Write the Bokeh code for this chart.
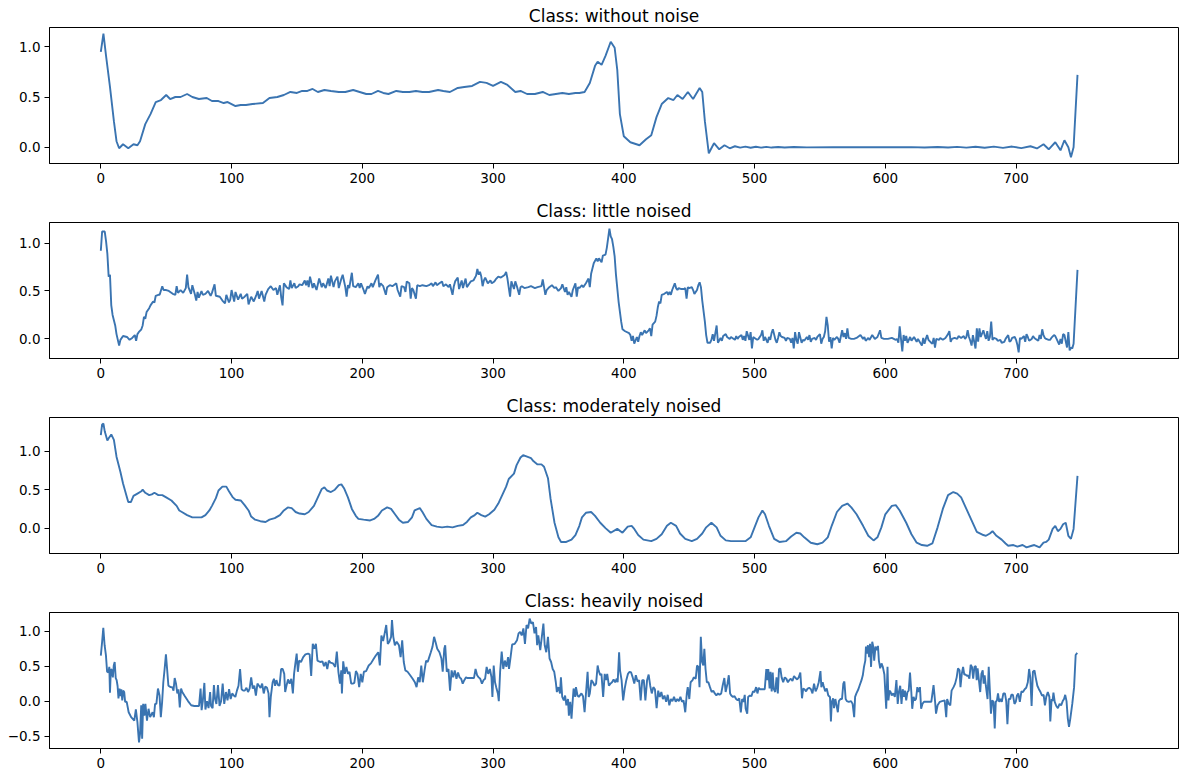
from bokeh.plotting import figure
from bokeh.layouts import column
from bokeh.models import Range1d, FixedTicker
from bokeh.embed import file_html
from bokeh.resources import INLINE

# Signal samples (index, amplitude) for each class
titles = ["Class: without noise", "Class: little noised",
          "Class: moderately noised", "Class: heavily noised"]
x_ticks = [0, 100, 200, 300, 400, 500, 600, 700]
y_ticks_upper = [0.0, 0.5, 1.0]
y_ticks_lower = [-0.5, 0.0, 0.5, 1.0]
# full sample axis extent (the recorded signal stops a bit before its end)
axis_length = 785

clean_pts = [
    (0, 0.95), (2, 1.13), (4, 0.91), (7, 0.6), (10, 0.26), (12, 0.06), (14, -0.01), (17, 0.03), (21, -0.01), (25, 0.03),
    (28, 0.02), (30, 0.06), (34, 0.23), (38, 0.33), (42, 0.45), (46, 0.47), (50, 0.52), (53, 0.48), (57, 0.5), (61, 0.5),
    (66, 0.53), (70, 0.5), (75, 0.48), (81, 0.49), (85, 0.46), (90, 0.46), (94, 0.44), (97, 0.45), (103, 0.41), (107, 0.42),
    (111, 0.42), (116, 0.43), (124, 0.44), (129, 0.49), (135, 0.5), (140, 0.52), (145, 0.55), (150, 0.54), (154, 0.56), (158, 0.56),
    (162, 0.58), (166, 0.55), (171, 0.57), (176, 0.56), (182, 0.55), (187, 0.55), (193, 0.57), (198, 0.55), (203, 0.53), (207, 0.53),
    (212, 0.56), (216, 0.54), (220, 0.53), (226, 0.56), (231, 0.55), (236, 0.55), (241, 0.56), (246, 0.55), (251, 0.55), (258, 0.57),
    (262, 0.56), (267, 0.55), (273, 0.59), (278, 0.6), (284, 0.61), (290, 0.65), (295, 0.64), (300, 0.61), (306, 0.65), (311, 0.62),
    (317, 0.55), (321, 0.56), (326, 0.53), (332, 0.53), (338, 0.55), (343, 0.52), (348, 0.53), (353, 0.54), (358, 0.53), (363, 0.54),
    (366, 0.54), (370, 0.55), (374, 0.64), (378, 0.81), (380, 0.85), (383, 0.82), (386, 0.91), (390, 1.05), (393, 0.99), (395, 0.77),
    (397, 0.33), (400, 0.11), (405, 0.05), (412, 0.02), (417, 0.08), (421, 0.12), (425, 0.3), (429, 0.43), (434, 0.49), (438, 0.47),
    (441, 0.52), (445, 0.48), (449, 0.55), (453, 0.48), (458, 0.59), (460, 0.55), (462, 0.26), (465, -0.06), (469, 0.04), (473, -0.02),
    (477, 0.02), (481, -0.01), (485, 0.01), (489, -0.003), (493, 0.006), (497, -0.005), (501, 0.005), (505, -0.004), (509, 0.004), (513, -0.003),
    (518, 0.003), (523, -0.002), (530, 0.002), (540, -0.001), (560, 0.001), (580, 0.0), (600, 0.0), (620, 0.001), (630, -0.002), (640, 0.003),
    (648, -0.003), (655, 0.004), (662, -0.004), (669, 0.005), (676, -0.005), (683, 0.006), (690, -0.006), (697, 0.007), (704, -0.008), (711, 0.01),
    (716, -0.012), (721, 0.03), (725, -0.02), (730, 0.05), (734, -0.03), (737, 0.07), (740, 0.0), (742, -0.1), (744, 0.0), (747, 0.72),
]

little_pts = [
    (0, 0.92), (1, 1.12), (3, 1.12), (4, 1.02), (5, 0.89), (6, 0.65), (7, 0.67), (8, 0.35), (9, 0.25), (11, 0.14),
    (12, 0.05), (14, -0.07), (15, -0.01), (17, 0.03), (20, 0.02), (22, -0.01), (24, 0.01), (26, 0.04), (27, -0.02), (28, 0.05),
    (29, 0.07), (31, 0.1), (32, 0.14), (33, 0.23), (34, 0.21), (35, 0.28), (37, 0.32), (38, 0.35), (40, 0.39), (41, 0.38),
    (42, 0.45), (44, 0.46), (45, 0.46), (47, 0.55), (48, 0.51), (50, 0.51), (52, 0.5), (55, 0.47), (57, 0.46), (58, 0.55),
    (59, 0.48), (61, 0.51), (63, 0.48), (65, 0.53), (66, 0.67), (67, 0.54), (69, 0.47), (70, 0.56), (72, 0.46), (73, 0.4),
    (74, 0.49), (75, 0.43), (77, 0.5), (78, 0.46), (80, 0.47), (82, 0.5), (84, 0.45), (85, 0.48), (87, 0.57), (88, 0.45),
    (91, 0.44), (93, 0.4), (95, 0.37), (96, 0.46), (98, 0.38), (99, 0.41), (100, 0.51), (102, 0.39), (103, 0.49), (105, 0.41),
    (107, 0.47), (108, 0.42), (110, 0.44), (112, 0.47), (113, 0.36), (115, 0.44), (117, 0.39), (119, 0.46), (120, 0.5), (121, 0.42),
    (123, 0.5), (125, 0.39), (126, 0.46), (128, 0.52), (130, 0.55), (132, 0.51), (134, 0.53), (135, 0.46), (137, 0.56), (138, 0.43),
    (139, 0.35), (140, 0.58), (142, 0.54), (144, 0.52), (145, 0.61), (146, 0.53), (148, 0.58), (149, 0.53), (151, 0.55), (152, 0.57),
    (154, 0.56), (156, 0.61), (157, 0.56), (158, 0.61), (159, 0.54), (160, 0.65), (162, 0.53), (163, 0.58), (165, 0.51), (167, 0.63),
    (169, 0.54), (170, 0.58), (172, 0.53), (174, 0.63), (175, 0.55), (176, 0.66), (178, 0.54), (179, 0.6), (181, 0.65), (182, 0.53),
    (184, 0.63), (185, 0.67), (187, 0.54), (188, 0.44), (189, 0.56), (190, 0.53), (192, 0.69), (193, 0.55), (195, 0.54), (197, 0.58),
    (198, 0.53), (199, 0.58), (201, 0.51), (202, 0.47), (204, 0.55), (205, 0.53), (207, 0.58), (208, 0.54), (210, 0.61), (212, 0.67),
    (213, 0.54), (214, 0.58), (216, 0.55), (218, 0.46), (219, 0.54), (221, 0.56), (223, 0.55), (226, 0.58), (227, 0.51), (229, 0.44),
    (230, 0.55), (232, 0.54), (233, 0.49), (234, 0.6), (236, 0.58), (237, 0.42), (238, 0.53), (239, 0.51), (241, 0.42), (242, 0.56),
    (244, 0.55), (246, 0.56), (249, 0.55), (251, 0.56), (253, 0.58), (254, 0.55), (256, 0.59), (257, 0.56), (259, 0.58), (261, 0.6),
    (262, 0.55), (264, 0.57), (266, 0.54), (267, 0.57), (269, 0.46), (270, 0.55), (271, 0.6), (273, 0.64), (274, 0.52), (276, 0.61),
    (277, 0.53), (279, 0.63), (280, 0.54), (282, 0.58), (283, 0.6), (285, 0.61), (287, 0.66), (288, 0.73), (289, 0.67), (290, 0.7),
    (291, 0.65), (292, 0.55), (293, 0.61), (294, 0.64), (296, 0.58), (298, 0.61), (299, 0.58), (301, 0.6), (302, 0.62), (304, 0.65),
    (306, 0.64), (308, 0.66), (309, 0.67), (310, 0.7), (311, 0.63), (313, 0.44), (314, 0.6), (316, 0.52), (317, 0.6), (318, 0.56),
    (320, 0.46), (321, 0.54), (322, 0.55), (324, 0.53), (327, 0.54), (329, 0.55), (332, 0.53), (334, 0.54), (337, 0.55), (338, 0.62),
    (339, 0.54), (340, 0.46), (341, 0.51), (343, 0.54), (345, 0.56), (347, 0.53), (348, 0.54), (350, 0.5), (352, 0.53), (353, 0.57),
    (355, 0.49), (356, 0.54), (357, 0.46), (358, 0.49), (360, 0.44), (361, 0.51), (363, 0.58), (364, 0.44), (365, 0.54), (366, 0.53),
    (368, 0.56), (369, 0.54), (371, 0.58), (373, 0.63), (374, 0.54), (375, 0.68), (377, 0.79), (379, 0.84), (380, 0.81), (381, 0.84),
    (383, 0.8), (384, 0.87), (386, 0.88), (387, 0.95), (388, 1.05), (389, 1.15), (390, 1.07), (391, 1.04), (392, 0.96), (393, 0.86),
    (394, 0.67), (396, 0.39), (398, 0.18), (399, 0.1), (401, 0.08), (404, 0.06), (405, 0.04), (406, -0.02), (407, 0.03), (408, -0.05),
    (410, 0.02), (411, -0.03), (412, 0.03), (413, 0.07), (414, 0.04), (416, 0.09), (417, 0.06), (419, 0.09), (420, 0.11), (421, 0.03),
    (422, 0.15), (424, 0.18), (425, 0.24), (426, 0.33), (427, 0.39), (428, 0.37), (429, 0.46), (431, 0.47), (433, 0.49), (434, 0.46),
    (435, 0.49), (436, 0.46), (437, 0.51), (439, 0.58), (440, 0.53), (441, 0.51), (442, 0.53), (444, 0.52), (446, 0.52), (447, 0.53),
    (448, 0.42), (449, 0.54), (450, 0.53), (452, 0.54), (453, 0.51), (454, 0.47), (456, 0.51), (457, 0.56), (458, 0.59), (459, 0.54),
    (460, 0.4), (462, 0.18), (463, 0.04), (464, -0.04), (466, -0.04), (467, -0.01), (468, 0.05), (469, -0.02), (471, 0.14), (472, -0.04),
    (474, 0.01), (475, -0.02), (476, 0.03), (478, 0.05), (479, 0.02), (481, 0.0), (482, 0.02), (483, 0.01), (485, -0.01), (486, 0.03),
    (487, 0.0), (488, 0.02), (490, 0.04), (491, -0.01), (492, 0.03), (493, -0.02), (494, 0.08), (496, -0.01), (497, 0.07), (498, -0.1),
    (499, 0.02), (500, 0.01), (502, -0.01), (503, 0.0), (505, 0.04), (506, 0.09), (507, -0.02), (508, 0.02), (510, -0.04), (511, 0.02),
    (512, -0.01), (513, 0.06), (514, 0.1), (516, -0.01), (517, -0.04), (518, 0.01), (519, 0.07), (520, 0.03), (521, 0.02), (523, 0.01),
    (524, -0.02), (525, 0.01), (527, 0.0), (528, -0.04), (529, 0.01), (530, -0.1), (531, 0.07), (532, -0.01), (533, -0.05), (534, 0.07),
    (536, -0.04), (537, -0.01), (538, -0.02), (540, 0.02), (541, -0.01), (542, 0.04), (543, -0.03), (544, 0.0), (546, 0.01), (547, -0.01),
    (548, 0.02), (550, 0.05), (551, -0.05), (552, 0.0), (553, 0.02), (554, 0.08), (555, 0.23), (556, 0.14), (557, -0.03), (558, 0.02),
    (559, -0.1), (560, 0.01), (561, -0.01), (563, 0.02), (564, 0.0), (565, -0.04), (567, 0.09), (568, 0.02), (569, 0.06), (570, 0.0),
    (571, 0.11), (572, 0.01), (574, 0.0), (576, 0.0), (578, 0.01), (581, 0.04), (583, 0.0), (584, 0.02), (585, -0.02), (587, 0.01),
    (588, -0.01), (590, 0.04), (592, 0.0), (594, 0.02), (596, 0.09), (597, 0.01), (599, 0.0), (602, 0.0), (605, 0.01), (608, -0.01),
    (609, 0.0), (610, -0.04), (611, 0.13), (613, -0.13), (614, 0.04), (615, -0.02), (616, 0.03), (617, -0.04), (619, 0.02), (620, -0.02),
    (621, 0.0), (622, 0.02), (624, -0.03), (625, 0.0), (628, -0.07), (629, 0.01), (630, -0.05), (631, 0.0), (632, 0.04), (633, -0.01),
    (635, -0.04), (636, -0.05), (637, 0.01), (638, -0.09), (639, 0.0), (641, -0.01), (642, 0.01), (644, -0.01), (646, 0.01), (648, 0.05),
    (649, 0.08), (650, -0.03), (651, 0.0), (653, 0.01), (655, 0.0), (656, 0.03), (658, 0.01), (660, 0.03), (661, 0.0), (662, 0.02),
    (663, 0.09), (664, 0.02), (665, -0.02), (666, -0.07), (667, 0.04), (668, -0.03), (669, -0.1), (670, 0.11), (671, -0.03), (672, 0.11),
    (673, 0.02), (675, 0.09), (676, 0.04), (677, 0.0), (678, 0.08), (679, -0.02), (680, 0.02), (681, 0.18), (682, -0.01), (683, 0.01),
    (685, 0.0), (686, -0.02), (688, -0.01), (689, -0.04), (691, -0.03), (692, 0.0), (694, 0.04), (695, -0.03), (696, -0.02), (697, 0.01),
    (699, 0.02), (700, -0.01), (701, -0.06), (702, -0.14), (703, 0.01), (704, 0.0), (706, 0.03), (707, -0.03), (708, 0.05), (709, 0.02),
    (710, -0.02), (712, 0.0), (713, 0.03), (714, 0.01), (715, 0.0), (717, -0.02), (718, 0.04), (719, 0.0), (720, 0.1), (721, 0.04),
    (722, 0.01), (723, 0.0), (725, -0.01), (726, -0.01), (727, 0.01), (729, 0.04), (730, 0.03), (731, 0.0), (733, -0.06), (734, 0.0),
    (735, -0.05), (736, 0.05), (737, 0.04), (739, -0.09), (740, 0.07), (741, -0.12), (742, -0.09), (743, -0.1), (744, -0.05), (747, 0.72),
]

moderate_pts = [
    (0, 1.21), (1, 1.35), (2, 1.36), (3, 1.26), (5, 1.14), (6, 1.17), (8, 1.22), (10, 1.15), (12, 0.93), (15, 0.73),
    (17, 0.58), (20, 0.4), (21, 0.34), (23, 0.34), (25, 0.42), (28, 0.45), (31, 0.48), (32, 0.5), (34, 0.46), (37, 0.43),
    (39, 0.44), (41, 0.46), (44, 0.43), (47, 0.43), (50, 0.4), (54, 0.36), (58, 0.29), (60, 0.23), (62, 0.21), (66, 0.17),
    (70, 0.14), (73, 0.14), (77, 0.14), (80, 0.17), (83, 0.23), (85, 0.29), (88, 0.39), (90, 0.49), (93, 0.54), (96, 0.54),
    (98, 0.48), (101, 0.4), (103, 0.37), (107, 0.36), (110, 0.3), (113, 0.23), (115, 0.15), (118, 0.11), (122, 0.09), (126, 0.08),
    (129, 0.11), (133, 0.13), (137, 0.17), (140, 0.23), (143, 0.27), (146, 0.26), (149, 0.21), (152, 0.19), (156, 0.18), (159, 0.21),
    (163, 0.29), (166, 0.4), (169, 0.51), (171, 0.53), (173, 0.49), (176, 0.47), (179, 0.5), (182, 0.56), (184, 0.57), (186, 0.52),
    (189, 0.4), (192, 0.25), (195, 0.16), (197, 0.12), (201, 0.11), (206, 0.1), (209, 0.12), (212, 0.16), (215, 0.23), (219, 0.27),
    (222, 0.25), (225, 0.18), (228, 0.11), (231, 0.07), (235, 0.08), (238, 0.14), (240, 0.23), (244, 0.26), (246, 0.21), (249, 0.12),
    (253, 0.04), (257, 0.02), (261, 0.01), (265, 0.02), (269, 0.01), (273, 0.03), (277, 0.04), (280, 0.08), (283, 0.14), (286, 0.17),
    (288, 0.2), (291, 0.17), (294, 0.15), (297, 0.18), (301, 0.24), (304, 0.32), (307, 0.43), (310, 0.54), (312, 0.64), (316, 0.71),
    (318, 0.82), (321, 0.92), (323, 0.95), (326, 0.93), (329, 0.91), (331, 0.87), (334, 0.83), (337, 0.83), (339, 0.8), (342, 0.65),
    (344, 0.38), (347, 0.07), (350, -0.12), (352, -0.18), (356, -0.18), (360, -0.15), (363, -0.09), (366, 0.03), (368, 0.14), (371, 0.2),
    (375, 0.21), (378, 0.16), (382, 0.07), (386, 0.0), (390, -0.06), (395, -0.01), (399, -0.06), (403, 0.02), (406, 0.03), (408, -0.01),
    (411, -0.09), (415, -0.15), (421, -0.17), (425, -0.14), (429, -0.08), (433, 0.03), (436, 0.07), (440, 0.03), (443, -0.07), (447, -0.14),
    (452, -0.17), (456, -0.14), (460, -0.07), (463, 0.01), (467, 0.07), (471, 0.01), (474, -0.1), (478, -0.16), (482, -0.17), (488, -0.17),
    (493, -0.17), (497, -0.12), (500, 0.01), (503, 0.14), (506, 0.23), (508, 0.18), (511, 0.03), (515, -0.14), (519, -0.18), (524, -0.17),
    (528, -0.11), (532, -0.06), (535, -0.07), (538, -0.12), (543, -0.19), (548, -0.21), (552, -0.19), (556, -0.12), (559, 0.03), (563, 0.21),
    (567, 0.29), (571, 0.32), (574, 0.27), (578, 0.18), (583, 0.03), (587, -0.1), (591, -0.16), (594, -0.12), (597, 0.01), (600, 0.18),
    (605, 0.29), (608, 0.3), (611, 0.23), (616, 0.07), (620, -0.08), (624, -0.19), (628, -0.22), (632, -0.23), (636, -0.2), (640, 0.01),
    (644, 0.25), (648, 0.43), (652, 0.47), (655, 0.45), (658, 0.4), (662, 0.25), (666, 0.1), (670, -0.05), (675, -0.09), (677, -0.1),
    (680, -0.07), (682, -0.04), (685, -0.1), (689, -0.15), (692, -0.2), (694, -0.23), (698, -0.22), (701, -0.24), (705, -0.22), (708, -0.25),
    (712, -0.23), (714, -0.22), (718, -0.25), (721, -0.19), (723, -0.18), (725, -0.15), (728, -0.01), (730, 0.03), (732, -0.04), (734, -0.01),
    (736, 0.05), (738, 0.07), (740, -0.1), (742, -0.14), (744, -0.01), (747, 0.68),
]

heavy_pts = [
    (0, 0.65), (1, 0.85), (1.9, 1.05), (2.9, 0.8), (3.9, 0.66), (4.8, 0.42), (5.8, 0.41), (6.5, 0.49), (7, 0.12), (7.7, 0.46),
    (8.5, 0.44), (9.2, 0.34), (9.9, 0.51), (10.6, 0.56), (11.4, 0.33), (12.1, 0.3), (12.8, 0.22), (13.5, 0.04), (14.3, 0.18), (15, 0.07),
    (15.7, 0.17), (16.4, 0.01), (17.1, 0.15), (17.9, 0.13), (18.6, -0.01), (19.8, -0.01), (21.3, -0.16), (23.2, -0.23), (25.6, -0.28), (26.8, -0.12),
    (28, -0.3), (29.2, -0.59), (30, -0.47), (30.9, -0.06), (31.6, -0.54), (32.4, -0.04), (33.3, -0.21), (34.1, -0.04), (35.3, -0.28), (36.5, -0.11),
    (37.7, -0.23), (39.6, -0.16), (40.6, -0.23), (41.5, -0.04), (42.5, -0.04), (43.7, 0.18), (44.9, 0.08), (45.9, -0.23), (46.9, -0.01), (47.8, 0.27),
    (48.8, 0.46), (49.8, 0.67), (50.7, 0.46), (51.7, 0.22), (53.4, 0.2), (54.6, 0.2), (55.6, 0.15), (56.5, 0.33), (57.5, 0.25), (58.5, 0.11),
    (59.4, 0.17), (60.4, -0.09), (61.4, 0.18), (62.3, 0.13), (64.3, 0.07), (66.7, 0.0), (69.1, -0.06), (71.5, -0.07), (73.9, -0.07), (75.1, -0.07),
    (76.3, 0.18), (77.1, -0.13), (78, 0.0), (79.2, 0.26), (80, -0.12), (81.2, 0.0), (82.4, -0.1), (83.6, 0.13), (84.3, -0.07), (85.5, -0.1),
    (86.5, 0.23), (87.4, 0.03), (88.4, -0.04), (89.6, 0.23), (90.8, -0.07), (92, 0.0), (93.2, 0.25), (94.4, -0.04), (95.7, 0.13), (96.9, 0.01),
    (98.1, 0.17), (99.3, 0.03), (100.5, 0.11), (101.7, 0.08), (102.9, 0.06), (104.1, 0.15), (105.3, 0.22), (106.5, 0.46), (107.7, 0.17), (108.9, 0.15),
    (110.1, 0.15), (111.4, 0.19), (112.6, 0.13), (113.8, 0.18), (115, 0.34), (116.2, 0.18), (117.4, 0.22), (118.6, 0.08), (119.8, 0.25), (121, 0.22),
    (122.2, 0.19), (123.4, 0.25), (124.6, 0.11), (125.8, 0.21), (127.1, 0.19), (128.3, 0.11), (129, -0.23), (130, 0.06), (131.4, 0.27), (132.4, 0.32),
    (133.3, 0.22), (134.3, 0.3), (135.5, 0.23), (136.7, 0.22), (137.9, 0.46), (139.1, 0.46), (140.3, 0.39), (141, 0.13), (142, 0.22), (143.2, 0.31),
    (144.4, 0.25), (145.7, 0.32), (146.9, 0.11), (147.8, 0.39), (148.8, 0.54), (149.8, 0.68), (150.7, 0.42), (151.7, 0.58), (153.1, 0.56), (154.8, 0.63),
    (156.5, 0.67), (158.5, 0.68), (159.7, 0.67), (160.9, 0.36), (162.1, 0.82), (163.3, 0.75), (164.5, 0.82), (165.7, 0.58), (167.8, 0.56), (169.5, 0.57),
    (170.7, 0.5), (172, 0.56), (173.2, 0.46), (174.4, 0.58), (175.6, 0.55), (177.6, 0.54), (179.3, 0.49), (180.5, 0.71), (181.7, 0.42), (182.9, 0.25),
    (183.9, 0.44), (184.4, 0.11), (185.4, 0.57), (186.6, 0.39), (187.8, 0.49), (189, 0.39), (190.2, 0.42), (191.5, 0.25), (192.7, 0.25), (193.9, 0.26),
    (195.1, 0.43), (196.3, 0.39), (197.6, 0.2), (198.8, 0.39), (200, 0.27), (201.2, 0.42), (202.9, 0.43), (204.9, 0.51), (206.6, 0.54), (208.5, 0.6),
    (210.2, 0.65), (212.2, 0.7), (213.4, 0.51), (214.6, 0.94), (215.9, 0.86), (217.1, 0.97), (218.3, 1.09), (219.5, 0.82), (220.7, 0.85), (222, 0.92),
    (222.7, 1.16), (223.7, 0.92), (224.9, 0.8), (226.3, 0.85), (228, 0.8), (229.3, 0.63), (230.5, 0.87), (231.7, 0.56), (232.9, 0.44), (234.6, 0.42),
    (236.6, 0.37), (238.5, 0.32), (240.2, 0.27), (241.5, 0.2), (242.7, 0.34), (243.9, 0.27), (245.1, 0.51), (246.3, 0.27), (247.6, 0.44), (248.8, 0.58),
    (250, 0.56), (251.2, 0.63), (252.4, 0.7), (253.7, 0.78), (254.9, 0.92), (256.1, 0.84), (257.3, 0.75), (259, 0.7), (260.5, 0.61), (261.5, 0.42),
    (262.7, 0.75), (263.4, 0.8), (264.6, 0.42), (265.9, 0.46), (267.1, 0.15), (268.3, 0.44), (269.5, 0.34), (270.7, 0.44), (272, 0.32), (273.2, 0.41),
    (274.4, 0.34), (275.6, 0.32), (276.8, 0.25), (278, 0.3), (279.3, 0.34), (280.5, 0.33), (282.9, 0.33), (285.4, 0.33), (286.6, 0.46), (287.8, 0.37),
    (289, 0.34), (290.2, 0.32), (291.5, 0.25), (292.7, 0.3), (293.9, 0.32), (295.1, 0.49), (296.3, 0.39), (297.6, 0.46), (298.8, 0.34), (299.5, 0.06),
    (300.5, 0.51), (301.5, 0.27), (302.4, 0.2), (303.7, 0.11), (304.4, 0.0), (305.4, 0.42), (306.6, 0.71), (307.8, 0.46), (309, 0.58), (310.2, 0.49),
    (311.5, 0.63), (312.2, 0.46), (313.4, 0.63), (314.6, 0.81), (316.6, 0.82), (318.3, 0.87), (319.5, 0.97), (320.7, 0.99), (321.9, 0.94), (323.2, 1.04),
    (324.4, 0.82), (325.6, 1.09), (326.8, 1.04), (328, 1.18), (329.3, 1.11), (330.5, 1.13), (331.7, 0.97), (332.9, 1.06), (333.7, 0.8), (334.6, 0.94),
    (336.1, 0.73), (337.3, 0.92), (338.5, 1.11), (339.5, 0.8), (340.7, 0.7), (342, 0.92), (343.2, 0.61), (344.4, 0.56), (345.6, 0.46), (346.8, 0.42),
    (348, 0.27), (348.8, 0.13), (350, 0.2), (351.2, 0.11), (351.9, 0.34), (352.9, 0.06), (354.1, 0.01), (355.1, 0.08), (356.1, -0.06), (357.3, 0.03),
    (358, -0.21), (359, -0.01), (360, -0.25), (361, 0.03), (361.6, 0.18), (362.8, 0.06), (363.4, 0.2), (364.6, 0.08), (365.6, 0.06), (367.6, 0.11),
    (368.8, 0.07), (370, -0.16), (371.5, 0.22), (372.3, 0.42), (373.2, 0.06), (374, 0.11), (375.2, 0.3), (376.4, 0.27), (377.6, 0.22), (378.8, 0.25),
    (380, 0.51), (380.7, 0.44), (382, 0.37), (382.9, 0.39), (384.2, 0.06), (385.4, 0.39), (386.4, 0.3), (387.3, 0.39), (388.6, 0.22), (389.8, 0.25),
    (391, 0.27), (392.2, 0.31), (393.4, 0.27), (394.6, 0.32), (395.3, 0.27), (396.4, 0.7), (397.1, 0.44), (398.3, 0.3), (399.5, 0.01), (400.7, 0.18),
    (401.9, 0.3), (403.2, 0.39), (404.4, 0.42), (405.6, 0.41), (406.8, 0.34), (408, 0.25), (409.2, 0.37), (410.5, 0.28), (411.7, 0.3), (412.9, 0.01),
    (414.1, 0.3), (415.3, 0.3), (416.5, 0.01), (417.8, 0.3), (419, 0.38), (420.2, 0.22), (421.4, 0.11), (422.6, 0.2), (423.8, 0.17), (425.1, -0.1),
    (426.3, 0.15), (427.5, 0.06), (428.7, 0.13), (429.9, 0.03), (431.1, 0.08), (432.4, -0.01), (433.6, 0.09), (434.8, -0.06), (436, 0.03), (437.2, 0.0),
    (438.4, 0.06), (439.7, -0.01), (440.9, 0.03), (442.1, 0.0), (443.3, 0.06), (444.5, -0.01), (445.7, 0.01), (447, -0.16), (448.2, 0.11), (448.9, 0.2),
    (450.1, 0.03), (451.1, 0.27), (452.6, 0.3), (453.5, 0.34), (455, 0.32), (456, 0.51), (457, 0.49), (457.9, 0.2), (458.9, 0.92), (459.9, 0.56),
    (460.8, 0.51), (461.6, 0.75), (462.5, 0.46), (463.5, 0.27), (464.7, 0.27), (465.9, 0.2), (467.2, 0.13), (468.4, 0.15), (469.6, 0.11), (470.8, 0.08),
    (472, 0.11), (473.2, 0.09), (474.5, 0.11), (475.7, 0.23), (476.9, 0.33), (477.9, 0.13), (479.3, 0.25), (480.3, 0.37), (481.3, 0.11), (482.2, 0.08),
    (483.5, 0.06), (484.7, 0.07), (485.9, 0.03), (487.1, 0.01), (488.3, 0.04), (489.5, -0.16), (490.5, 0.03), (491.5, -0.01), (492.5, 0.09), (493.2, -0.11),
    (494.4, -0.18), (495.1, 0.06), (496.4, 0.08), (497.6, 0.07), (498.8, 0.14), (500, 0.13), (501.2, 0.2), (502.2, 0.11), (503.2, 0.19), (504.1, 0.17),
    (505.4, 0.17), (506.6, 0.17), (507.8, 0.17), (509, 0.46), (509.7, 0.3), (510.5, 0.46), (511.5, 0.18), (512.2, 0.42), (513.1, 0.14), (513.9, 0.41),
    (514.6, 0.18), (515.8, 0.13), (516.8, 0.34), (517.8, 0.11), (518.7, 0.46), (519.7, 0.47), (520.7, 0.34), (521.9, 0.27), (523.1, 0.34), (524.3, 0.32),
    (525.5, 0.27), (526.5, 0.3), (527.7, 0.32), (529, 0.29), (530.2, 0.36), (531.4, 0.33), (532.6, 0.31), (533.8, 0.34), (535, 0.41), (536.3, 0.04),
    (537.2, 0.18), (538.2, 0.17), (539.4, 0.14), (540.6, 0.18), (541.8, 0.19), (543.1, 0.17), (544.3, 0.11), (545.5, 0.25), (546.7, 0.14), (547.9, 0.19),
    (549.1, 0.27), (550.4, 0.43), (551.1, 0.2), (552.1, 0.27), (552.8, 0.22), (554, 0.14), (555.2, 0.18), (556.4, 0.08), (557.7, 0.06), (558.4, -0.29),
    (559.1, -0.01), (560.1, 0.04), (560.8, -0.1), (561.8, 0.03), (562.5, -0.04), (563.7, -0.16), (564.5, 0.0), (565.7, 0.03), (566.9, 0.03), (567.9, 0.25),
    (568.7, 0.28), (569.7, 0.03), (570.6, 0.0), (572.1, -0.01), (573.8, 0.0), (575, -0.04), (576.2, -0.23), (576.9, 0.06), (577.9, 0.11), (579.4, 0.17),
    (580.3, 0.22), (581.8, 0.3), (582.8, 0.37), (583.7, 0.49), (584.7, 0.58), (585.2, 0.78), (585.9, 0.68), (586.7, 0.8), (587.6, 0.63), (588.3, 0.82),
    (589.1, 0.49), (590, 0.85), (590.8, 0.78), (591.5, 0.58), (592.5, 0.78), (593.4, 0.73), (594.4, 0.79), (595.1, 0.58), (596.1, 0.47), (597.1, 0.54),
    (598.1, 0.49), (599.3, 0.38), (600, 0.13), (600.7, -0.11), (601.7, 0.49), (602.4, 0.01), (603.2, 0.15), (604.1, 0.13), (604.9, 0.08), (606.1, 0.11),
    (607.3, 0.06), (608.5, 0.3), (609.5, -0.04), (610.4, 0.13), (611.4, 0.22), (612.4, -0.04), (613.3, 0.17), (614.3, 0.06), (615, 0.15), (616, 0.01),
    (616.9, 0.13), (617.9, 0.15), (618.9, 0.41), (619.9, 0.13), (620.6, -0.11), (621.6, 0.06), (622.6, 0.01), (623.5, 0.03), (624.5, 0.2), (625.5, 0.13),
    (626.5, 0.2), (627.4, -0.11), (628.4, -0.04), (629.6, -0.01), (631.3, -0.01), (633.3, -0.01), (635.2, -0.01), (636.9, 0.23), (638.1, -0.01), (638.8, -0.18),
    (640, -0.06), (641.7, -0.01), (643.4, 0.0), (645.4, 0.01), (646.6, -0.23), (647.3, 0.03), (648.5, -0.04), (649.7, -0.06), (650.7, 0.15), (652.2, 0.2),
    (653.4, 0.25), (654.6, 0.34), (655.6, 0.47), (656.8, 0.44), (657.5, 0.2), (658.5, 0.39), (659.5, 0.49), (660.4, 0.38), (661.4, 0.38), (662.4, 0.36),
    (663.3, 0.37), (664.3, 0.32), (665.3, 0.52), (666.3, 0.49), (667.2, 0.32), (668.2, 0.49), (669.2, 0.5), (669.9, 0.3), (670.6, 0.47), (671.6, 0.3),
    (672.6, 0.13), (673.5, 0.39), (674.5, 0.44), (675.2, 0.25), (676, 0.37), (676.9, 0.22), (678.2, 0.03), (679.1, 0.49), (680.1, 0.11), (680.8, -0.18),
    (681.8, 0.01), (682.8, -0.01), (683.7, -0.39), (684.5, -0.01), (685.4, 0.01), (686.2, 0.11), (687.1, -0.01), (688.1, 0.03), (689.1, -0.01), (690.3, 0.11),
    (691.5, 0.11), (692.5, 0.0), (693.4, -0.33), (694.4, 0.03), (695.6, 0.03), (696.4, 0.09), (697.6, 0.09), (698.8, -0.04), (699.8, -0.01), (700.7, 0.08),
    (701.7, 0.11), (702.9, -0.01), (704.1, 0.14), (705.3, 0.13), (706.6, 0.17), (707.8, 0.19), (709, 0.27), (710, 0.46), (710.9, 0.34), (711.9, -0.07),
    (712.9, 0.42), (714.1, 0.44), (715, 0.34), (716.3, 0.22), (717.5, 0.17), (718.7, 0.13), (719.9, 0.08), (721.1, 0.09), (722.1, -0.06), (723.1, 0.06),
    (724.3, 0.13), (725.5, 0.06), (726.2, -0.29), (727.2, 0.03), (727.9, 0.0), (728.6, 0.12), (729.6, -0.01), (730.8, -0.07), (732, -0.1), (733.3, -0.04),
    (734.5, -0.06), (735.7, 0.0), (736.7, 0.03), (737.6, 0.09), (738.6, 0.0), (739.6, -0.25), (740.5, -0.37), (741.5, -0.25), (743, -0.04), (744.4, 0.2),
    (745.6, 0.66), (746.8, 0.69),
]

LINE_COLOR = "#3a74b1"
FONT = "DejaVu Sans"


def tick_text(v):
    s = f"{v:.1f}"
    return s.replace("-", "\u2212")


def make_panel(title, pts, y_ticks):
    xs = [p[0] for p in pts]
    ys = [p[1] for p in pts]
    lo, hi = min(ys), max(ys)
    pad = 0.05 * (hi - lo)
    xpad = 0.05 * axis_length
    p = figure(width=1180, height=195, output_backend="svg", toolbar_location=None,
               x_range=Range1d(-xpad, axis_length + xpad),
               y_range=Range1d(lo - pad, hi + pad),
               min_border_left=49, min_border_right=2,
               min_border_top=27, min_border_bottom=32)
    p.line(xs, ys, line_color=LINE_COLOR, line_width=1.9)

    p.title.text = title
    p.title.align = "center"
    p.title.text_font = FONT
    p.title.text_font_size = "17px"
    p.title.text_font_style = "normal"
    p.title.text_color = "#000000"
    p.title.standoff = 4

    p.xgrid.visible = False
    p.ygrid.visible = False
    p.outline_line_color = "#000000"
    p.outline_line_width = 1
    p.outline_line_alpha = 1
    p.background_fill_color = "white"
    p.border_fill_color = "white"

    p.xaxis.ticker = FixedTicker(ticks=x_ticks)
    p.yaxis.ticker = FixedTicker(ticks=y_ticks)
    p.yaxis.major_label_overrides = {v: tick_text(v) for v in y_ticks}
    for ax in (p.xaxis[0], p.yaxis[0]):
        ax.axis_line_color = "#000000"
        ax.major_tick_line_color = "#000000"
        ax.major_tick_out = 5
        ax.major_tick_in = 0
        ax.minor_tick_line_color = None
        ax.major_label_text_font = FONT
        ax.major_label_text_font_size = "13.5px"
        ax.major_label_text_color = "#000000"
        ax.major_label_standoff = 4
    return p


panels = [
    make_panel(titles[0], clean_pts, y_ticks_upper),
    make_panel(titles[1], little_pts, y_ticks_upper),
    make_panel(titles[2], moderate_pts, y_ticks_upper),
    make_panel(titles[3], heavy_pts, y_ticks_lower),
]

layout = column(*panels, spacing=0)
open("out.html", "w").write(file_html(layout, INLINE))
